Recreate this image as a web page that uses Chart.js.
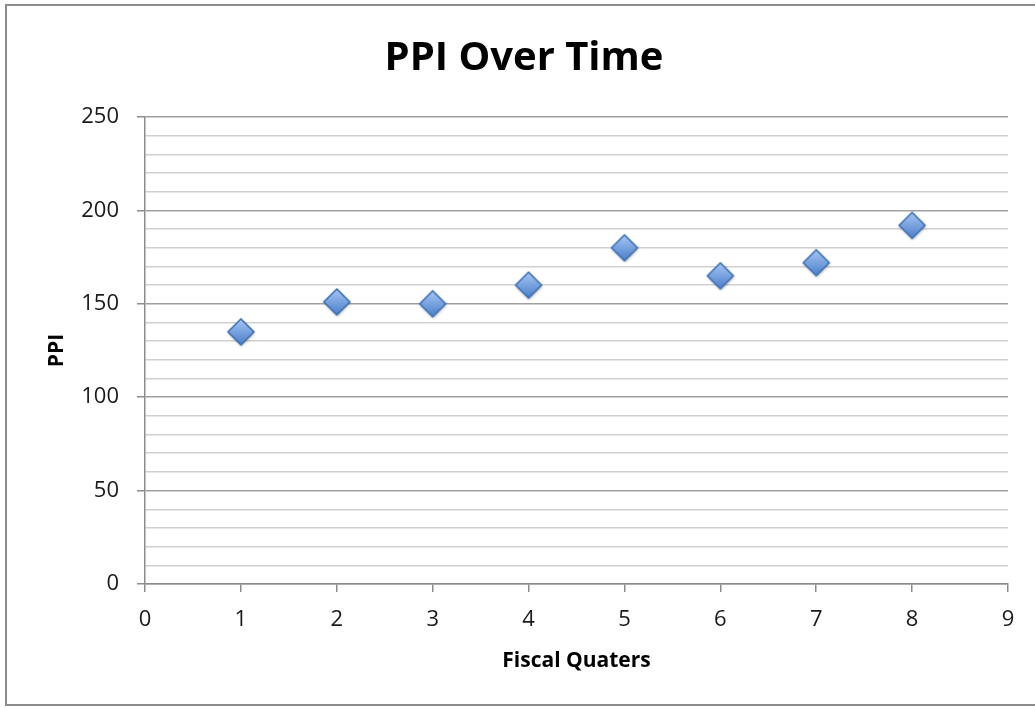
<!DOCTYPE html>
<html>
<head>
<meta charset="utf-8">
<script src="https://cdn.jsdelivr.net/npm/chart.js@4/dist/chart.umd.min.js"></script>
<style>
  html, body { margin: 0; padding: 0; background: #fff; }
  #wrap { width: 1035px; height: 707px; }
</style>
</head>
<body>
<div id="wrap"><canvas id="c" width="1035" height="707"></canvas></div>
<script>
const chartTitle = 'PPI Over Time';
const xAxisTitle = 'Fiscal Quaters';
const yAxisTitle = 'PPI';
const quarters = [1, 2, 3, 4, 5, 6, 7, 8];
const ppiValues = [135, 151, 150, 160, 180, 165, 172, 192];
const xTicks = [0, 1, 2, 3, 4, 5, 6, 7, 8, 9];
const yTicks = [0, 50, 100, 150, 200, 250];
const yMinorTicks = [0, 10, 20, 30, 40, 50, 60, 70, 80, 90, 100, 110, 120, 130, 140, 150, 160, 170, 180, 190, 200, 210, 220, 230, 240, 250];

const FONT = "'Open Sans', 'DejaVu Sans', sans-serif";

function makeDiamond(r) {
  const pad = 5;
  const s = 2 * r + 2 * pad;
  const cv = document.createElement('canvas');
  cv.width = s; cv.height = s;
  const g = cv.getContext('2d');
  const cx = s / 2, cy = s / 2;
  const path = () => {
    g.beginPath();
    g.moveTo(cx, cy - r); g.lineTo(cx + r, cy); g.lineTo(cx, cy + r); g.lineTo(cx - r, cy); g.closePath();
  };
  g.save();
  g.shadowColor = 'rgba(0,0,0,0.35)';
  g.shadowBlur = 3;
  g.shadowOffsetX = 0.5;
  g.shadowOffsetY = 1.5;
  path();
  const grad = g.createLinearGradient(0, cy - r, 0, cy + r);
  grad.addColorStop(0, '#a9c6f0');
  grad.addColorStop(0.5, '#78a3e0');
  grad.addColorStop(1, '#4b7fc8');
  g.fillStyle = grad;
  g.fill();
  g.restore();
  path();
  g.lineWidth = 1.5;
  g.strokeStyle = '#3b6db3';
  g.stroke();
  return cv;
}
const diamond = makeDiamond(13);

const framePlugin = {
  id: 'frame',
  beforeDraw(chart) {
    const ctx = chart.ctx;
    ctx.save();
    ctx.fillStyle = '#ffffff';
    ctx.fillRect(0, 0, chart.width, chart.height);
    ctx.strokeStyle = '#8c8c8c';
    ctx.lineWidth = 2;
    ctx.beginPath();
    ctx.moveTo(1035, 5);
    ctx.lineTo(6, 5);
    ctx.lineTo(6, 705);
    ctx.lineTo(1035, 705);
    ctx.stroke();
    ctx.restore();
  }
};

new Chart(document.getElementById('c'), {
  type: 'scatter',
  data: {
    datasets: [{
      label: yAxisTitle,
      data: quarters.map((q, i) => ({ x: q, y: ppiValues[i] })),
      pointStyle: diamond,
      pointRadius: 13,
      pointHoverRadius: 13
    }]
  },
  options: {
    responsive: false,
    animation: false,
    events: [],
    layout: { padding: { left: 40, right: 27, top: 0, bottom: 30 } },
    plugins: {
      legend: { display: false },
      tooltip: { enabled: false },
      title: {
        display: true,
        text: chartTitle,
        color: '#000',
        font: { family: FONT, size: 40, weight: 'bold' },
        padding: { top: 35, bottom: 34 }
      }
    },
    scales: {
      x: {
        type: 'linear',
        min: 0, max: 9,
        afterBuildTicks(scale) { scale.ticks = xTicks.map(v => ({ value: v })); },
        afterFit(scale) { scale.height = 707 - 584 - 30; },
        border: { display: true, color: '#8c8c8c', width: 1.5 },
        grid: { drawOnChartArea: false, drawTicks: true, tickLength: 8, color: '#8c8c8c', lineWidth: 1.5 },
        ticks: { color: '#1a1a1a', font: { family: FONT, size: 22 }, padding: 15, maxRotation: 0, autoSkip: false },
        title: {
          display: true, text: xAxisTitle, color: '#000',
          font: { family: FONT, size: 21, weight: 'bold' },
          padding: { top: 4, bottom: 3 }
        }
      },
      y: {
        type: 'linear',
        min: 0, max: 250,
        afterBuildTicks(scale) { scale.ticks = yMinorTicks.map(v => ({ value: v })); },
        ticks: {
          autoSkip: false,
          color: '#1a1a1a',
          font: { family: FONT, size: 22 },
          padding: 18,
          callback: (v) => (yTicks.includes(v) ? String(v) : '')
        },
        afterFit(scale) { scale.width = 145 - 40; },
        border: { display: true, color: '#8c8c8c', width: 1.5 },
        grid: {
          drawTicks: true,
          tickLength: 8,
          color: (ctx) => (ctx.tick && yTicks.includes(ctx.tick.value) ? '#a0a0a0' : '#d0d0d0'),
          tickColor: (ctx) => (ctx.tick && yTicks.includes(ctx.tick.value) ? '#8c8c8c' : 'rgba(0,0,0,0)'),
          lineWidth: 1.5
        },
        title: {
          display: true, text: yAxisTitle, color: '#000',
          font: { family: FONT, size: 21, weight: 'bold' },
          padding: { top: 4, bottom: 4 }
        }
      }
    }
  },
  plugins: [framePlugin]
});
</script>
</body>
</html>
